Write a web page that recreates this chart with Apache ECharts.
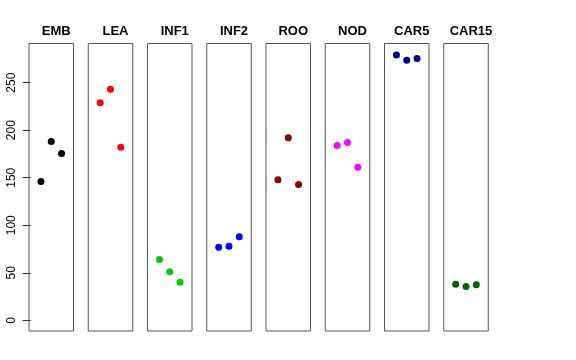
<!DOCTYPE html>
<html><head><meta charset="utf-8">
<script src="https://cdn.jsdelivr.net/npm/echarts@6/dist/echarts.min.js"></script>
<style>html,body{margin:0;padding:0;background:#fff}#c{width:576px;height:360px}</style>
</head><body><div id="c"></div>
<script>
const categories = ['EMB','LEA','INF1','INF2','ROO','NOD','CAR5','CAR15'];
const colors = ['#000000','#FF0000','#00CD00','#0000FF','#8B0000','#FF00FF','#00008B','#006400'];
const xPositions = [1, 2, 3];
const vEMB = [146, 188, 175.5];
const vLEA = [229, 243, 182];
const vINF1 = [64, 51, 40];
const vINF2 = [77, 78, 88];
const vROO = [148, 192, 143];
const vNOD = [184, 187, 161];
const vCAR5 = [279, 273.5, 275.5];
const vCAR15 = [38, 35.7, 37.4];
const yTicks = [0, 50, 100, 150, 200, 250];
const seriesValues = [vEMB, vLEA, vINF1, vINF2, vROO, vNOD, vCAR5, vCAR15];

(function () {
const chart = echarts.init(document.getElementById('c'), null, {renderer: 'canvas'});
const grids = [], xAxes = [], yAxes = [], series = [], titles = [];
const left0 = 29, step = 59.25, gw = 44.5, gTop = 43.5, gh = 287.5;
categories.forEach((cat, i) => {
  const l = left0 + step * i;
  grids.push({left: l, top: gTop, width: gw, height: gh, show: true, borderColor: '#555', borderWidth: 1, backgroundColor: 'transparent'});
  xAxes.push({gridIndex: i, type: 'value', min: -0.16, max: 4.16, show: false});
  yAxes.push({
    gridIndex: i, type: 'value', min: -11.2, max: 291.2, show: i === 0,
    splitLine: {show: false},
    axisLine: {show: false},
    axisTick: {show: i === 0, length: 8, customValues: yTicks, lineStyle: {color: '#333'}},
    axisLabel: {show: i === 0, customValues: yTicks, rotate: 90, margin: 11, fontSize: 12,
      fontFamily: 'Liberation Sans, Arial, sans-serif', color: '#000'}
  });
  series.push({
    type: 'scatter', xAxisIndex: i, yAxisIndex: i, symbol: 'circle', symbolSize: 7,
    itemStyle: {color: colors[i], opacity: 1}, silent: true,
    data: xPositions.map((x, k) => [x, seriesValues[i][k]])
  });
  titles.push({text: cat, left: l + gw / 2, top: 20, textAlign: 'center',
    textStyle: {fontSize: 13, fontWeight: 'bold', color: '#000', fontFamily: 'Liberation Sans, Arial, sans-serif'}});
});
chart.setOption({animation: false, title: titles, grid: grids, xAxis: xAxes, yAxis: yAxes, series: series});
})();
</script></body></html>
